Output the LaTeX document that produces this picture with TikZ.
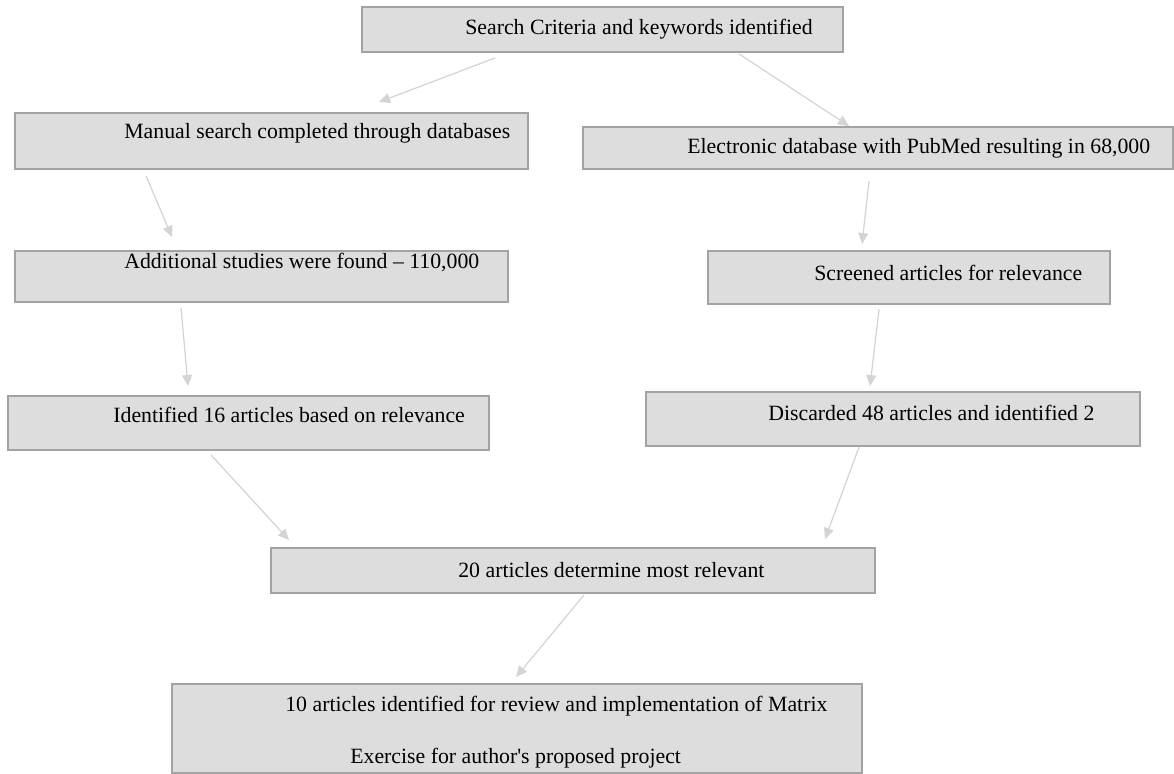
\documentclass[tikz,border=0pt]{standalone}
\usepackage{fontspec}
\setmainfont{Liberation Serif}
\usepackage{tikz}
\usetikzlibrary{calc}
\usetikzlibrary{fit}
\usetikzlibrary{arrows.meta}
\definecolor{boxfill}{HTML}{DDDDDD}
\definecolor{boxline}{HTML}{A3A3A3}
\definecolor{arrowgray}{HTML}{D4D4D4}
\tikzset{
	box/.style={draw=boxline, line width=1.1pt, fill=boxfill, inner sep=0pt},
	txt/.style={anchor=west, inner sep=0pt, font=\fontsize{12.4}{15}\selectfont},
	flow/.style={draw=arrowgray, line width=0.7pt, -{Triangle[length=2.2mm,width=2mm]}}
	}

\begin{document}
\begin{tikzpicture}[x=0.02cm,y=-0.02cm]
\useasboundingbox (0,0) rectangle (1174,774);

       % boxes
       \node[box, fit={(362,7) (843,52)}] (crit) {};
       \node[txt] (critt) at (465,29) {Search Criteria and keywords identified};
       
       \node[box, fit={(15,113) (528,169)}] (man) {};
       \node[txt] (mant) at (124,133) {Manual search completed through databases};
       
       \node[box, fit={(583,127) (1173,169)}] (elec) {};
       \node[txt] (elect) at (687,148) {Electronic database with PubMed resulting in 68,000};
       
       \node[box, fit={(15,251) (508,302)}] (add) {};
       \node[txt] (addt) at (124,263) {Additional studies were found – 110,000};
       
       \node[box, fit={(708,251) (1110,304)}] (scr) {};
       \node[txt] (scrt) at (814,273) {Screened articles for relevance};
       
       \node[box, fit={(8,396) (489,450)}] (ident) {};
       \node[txt] (identt) at (113,415) {Identified 16 articles based on relevance};
       
       \node[box, fit={(646,392) (1140,446)}] (disc) {};
       \node[txt] (disct) at (768,413) {Discarded 48 articles and identified 2};
       
       \node[box, fit={(271,548) (875,593)}] (twenty) {};
       \node[txt] (twentyt) at (458,570) {20 articles determine most relevant};
       
       \node[box, fit={(172,684) (862,773)}] (final) {};
       \node[txt] (finalt) at (285,706) {10 articles identified for review and implementation of Matrix};
       \node[txt] (finalu) at (350,758) {Exercise for author\textquotesingle s proposed project};
       
       % arrows
       \draw[flow] ($(crit.south west)+(134,5)$) -- ($(man.north west)+(365,-10)$);
       \draw[flow] ($(crit.south west)+(378,1)$) -- ($(elec.north west)+(267,0)$);
       
       \draw[flow] ($(man.south west)+(132,6)$) -- ($(add.north west)+(158,-13)$);
       \draw[flow] ($(add.south west)+(167,5)$) -- ($(ident.north west)+(181,-9)$);
       
       \draw[flow] ($(elec.south west)+(287,11)$) -- ($(scr.north west)+(155,-6)$);
       \draw[flow] ($(scr.south west)+(172,4)$) -- ($(disc.north west)+(225,-5)$);
       
       \draw[flow] ($(ident.south west)+(204,4)$) -- ($(twenty.north west)+(19,-7)$);
       \draw[flow] ($(disc.south west)+(214,0)$) -- ($(twenty.north west)+(555,-8)$);
       
       \draw[flow] ($(twenty.south west)+(314,1)$) -- ($(final.north west)+(345,-6)$);
\end{tikzpicture}
\end{document}
